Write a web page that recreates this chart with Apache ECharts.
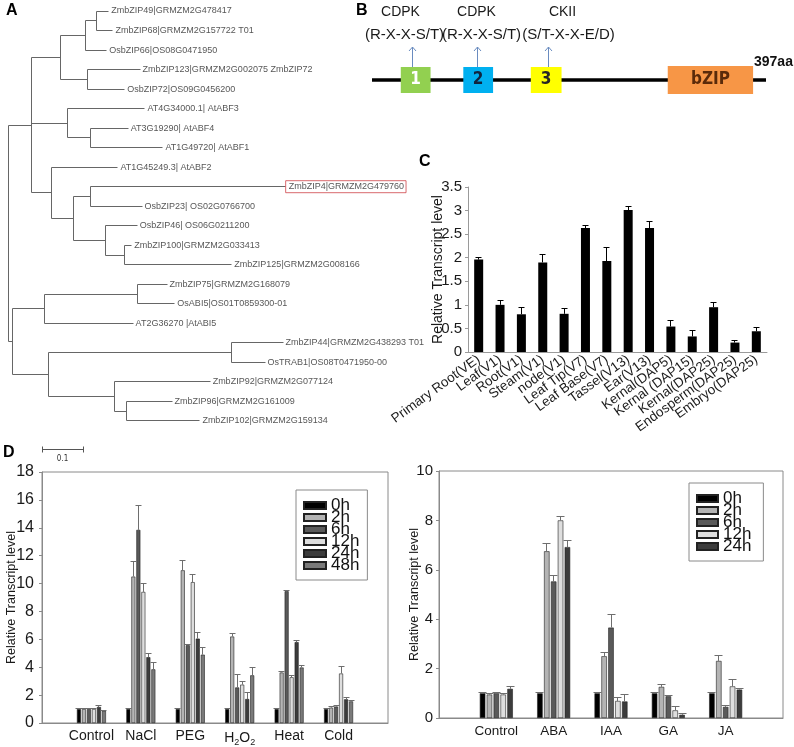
<!DOCTYPE html>
<html><head><meta charset="utf-8">
<script src="https://cdn.jsdelivr.net/npm/echarts@6/dist/echarts.min.js"></script>
<style>html,body{margin:0;padding:0;background:#fff}#c{width:794px;height:747px}</style>
</head><body><div id="c"></div>
<script>
// ---------------- Panel A: phylogenetic tree ----------------
const leafNames = [
  'ZmbZIP49|GRMZM2G478417','ZmbZIP68|GRMZM2G157722 T01','OsbZIP66|OS08G0471950',
  'ZmbZIP123|GRMZM2G002075 ZmbZIP72','OsbZIP72|OS09G0456200','AT4G34000.1| AtABF3',
  'AT3G19290| AtABF4','AT1G49720| AtABF1','AT1G45249.3| AtABF2','ZmbZIP4|GRMZM2G479760',
  'OsbZIP23| OS02G0766700','OsbZIP46| OS06G0211200','ZmbZIP100|GRMZM2G033413',
  'ZmbZIP125|GRMZM2G008166','ZmbZIP75|GRMZM2G168079','OsABI5|OS01T0859300-01',
  'AT2G36270 |AtABI5','ZmbZIP44|GRMZM2G438293 T01','OsTRAB1|OS08T0471950-00',
  'ZmbZIP92|GRMZM2G077124','ZmbZIP96|GRMZM2G161009','ZmbZIP102|GRMZM2G159134'];
const leafParents = ['n96','n96','n86','n88','n88','n68','n90','n90','n52','n91','n91','n106','n125','n125','n137','n137','n45','n231','n231','n114','n127','n127'];
const leafDist = [0.246,0.256,0.241,0.322,0.285,0.334,0.293,0.378,0.268,0.676,0.327,0.315,0.302,0.546,0.388,0.407,0.305,0.671,0.627,0.493,0.400,0.468];
const nodeNames   = ['root','nU','n61','n86','n96','n88','n68','n90','n52','n73','n91','n106','n125','nL','n45','n137','n48','n231','n114','n127'];
const nodeParents = [null,'root','nU','n61','n86','n61','nU','n68','nU','n52','n73','n73','n106','root','nL','n45','nL','n48','n48','n114'];
const nodeDist    = [0,0.0585,0.129,0.190,0.215,0.195,0.146,0.200,0.107,0.159,0.202,0.239,0.285,0.010,0.090,0.315,0.098,0.544,0.259,0.290];
const highlightedLeaf = 'ZmbZIP4|GRMZM2G479760';
const scaleBar = [[0.083, 0.1, 22.44]]; // start, length, row

// ---------------- Panel B: protein schematic ----------------
const proteinLength = 397;
const domainStart = [29, 92, 160, 298];
const domainEnd   = [59, 122, 191, 384];
const domainLabels = ['1', '2', '3', 'bZIP'];
const sitePos = [41, 106, 178];
const siteKinase = ['CDPK', 'CDPK', 'CKII'];
const siteMotif = ['(R-X-X-S/T)', '(R-X-X-S/T)', '(S/T-X-X-E/D)'];

// ---------------- Panel C: tissue expression ----------------
const tissueNames = ['Primary Root(VE)','Leaf(V1)','Root(V1)','Steam(V1)','node(V1)','Leaf Tip(V7)','Leaf Base(V7)','Tassel(V13)','Ear(V13)','Kernal(DAP5)','Kernal (DAP15)','Kernal(DAP25)','Endosperm(DAP25)','Embryo(DAP25)'];
const tissueValues = [1.96,1.0,0.8,1.9,0.81,2.63,1.93,3.01,2.63,0.54,0.33,0.95,0.2,0.44];
const tissueErr    = [0.04,0.1,0.15,0.16,0.11,0.06,0.28,0.07,0.13,0.13,0.12,0.1,0.05,0.08];

// ---------------- Panel D left: stresses ----------------
const stressNames = ['Control','NaCl','PEG','H2O2','Heat','Cold'];
const stressTimes = ['0h','2h','6h','12h','24h','48h'];
const stress0h  = [1.0, 1.0, 1.0, 1.0, 1.0, 1.0];
const stress2h  = [1.0, 10.5, 10.95, 6.2, 3.62, 1.1];
const stress6h  = [1.0, 13.85, 5.58, 2.55, 9.45, 1.18];
const stress12h = [1.0, 9.4, 10.1, 2.75, 3.28, 3.55];
const stress24h = [1.15, 4.72, 6.05, 1.72, 5.8, 1.7];
const stress48h = [0.88, 3.85, 4.9, 3.42, 3.98, 1.55];
const stress0hErr  = [0.05, 0.05, 0.05, 0.05, 0.05, 0.05];
const stress2hErr  = [0.05, 1.1, 0.72, 0.2, 0.08, 0.07];
const stress6hErr  = [0.05, 1.75, 0.08, 0.9, 0.07, 0.07];
const stress12hErr = [0.05, 0.6, 0.53, 0.2, 0.1, 0.52];
const stress24hErr = [0.12, 0.28, 0.42, 0.47, 0.14, 0.1];
const stress48hErr = [0.05, 0.5, 0.5, 0.56, 0.12, 0.06];

// ---------------- Panel D right: hormones ----------------
const hormoneNames = ['Control','ABA','IAA','GA','JA'];
const hormoneTimes = ['0h','2h','6h','12h','24h'];
const hormone0h  = [1.0, 1.0, 1.0, 1.0, 1.0];
const hormone2h  = [0.95, 6.75, 2.5, 1.26, 2.31];
const hormone6h  = [1.0, 5.53, 3.66, 0.88, 0.45];
const hormone12h = [0.95, 8.0, 0.69, 0.31, 1.28];
const hormone24h = [1.18, 6.92, 0.67, 0.13, 1.15];
const hormone0hErr  = [0.05, 0.05, 0.05, 0.05, 0.05];
const hormone2hErr  = [0.06, 0.33, 0.17, 0.1, 0.21];
const hormone6hErr  = [0.03, 0.22, 0.52, 0.03, 0.07];
const hormone12hErr = [0.06, 0.16, 0.12, 0.14, 0.27];
const hormone24hErr = [0.1, 0.27, 0.29, 0.07, 0.05];

// ================= styles =================
const FONT = '"Liberation Sans", Arial, Helvetica, sans-serif';
const NARROW = '"Liberation Sans Narrow", "DejaVu Sans Condensed", Arial, sans-serif';
const timeColors = ['#000000', '#b4b4b4', '#5a5a5a', '#dedede', '#3c3c3c', '#7a7a7a'];
const domainFill = ['#92d050', '#00b0f0', '#ffff00', '#f79646'];
const domainText = ['#ffffff', '#10243e', '#262626', '#5a2a0a'];
const domainH = [26, 26, 26, 28];
const crisp = v => Math.round(v - 0.5) + 0.5;

// ================= tree building =================
function buildTree() {
  const all = {};
  leafNames.forEach((n, i) => { all['L' + i] = { dist: leafDist[i], y: i, parent: leafParents[i], children: [] }; });
  nodeNames.forEach((n, i) => { all[n] = { dist: nodeDist[i], parent: nodeParents[i], children: [] }; });
  Object.keys(all).forEach(k => { const p = all[k].parent; if (p) all[p].children.push(k); });
  function getY(k) {
    const nd = all[k];
    if (nd.y !== undefined) return nd.y;
    const ys = nd.children.map(getY);
    nd.minY = Math.min(...ys); nd.maxY = Math.max(...ys);
    nd.y = (nd.minY + nd.maxY) / 2;
    return nd.y;
  }
  getY('root');
  const segs = [];
  Object.keys(all).forEach(k => {
    const nd = all[k];
    if (nd.parent) segs.push([all[nd.parent].dist, nd.y, nd.dist, nd.y]);
    if (nd.children.length) segs.push([nd.dist, nd.minY, nd.dist, nd.maxY]);
  });
  return segs;
}
const treeSegs = buildTree();

// ================= helpers for grouped bars =================
function padded(arr) { return [null].concat(arr, [null]); }
function errData(valsList, errList) {
  const out = [];
  valsList.forEach((vals, s) => vals.forEach((v, c) => out.push([c + 1, s, v, errList[s][c]])));
  return out;
}
function groupedErrSeries(name, xi, data, n, bw, gapRatio, capW) {
  const gap = bw * gapRatio;
  const total = n * bw + (n - 1) * gap;
  return {
    type: 'custom', name: name, xAxisIndex: xi, yAxisIndex: xi, z: 5,
    encode: { x: 0, y: 2 }, data: data,
    renderItem: (params, api) => {
      const c = api.value(0), s = api.value(1), v = api.value(2), e = api.value(3);
      const base = api.coord([c, v]);
      const top = api.coord([c, v + e]);
      const x = crisp(base[0] - total / 2 + bw / 2 + s * (bw + gap));
      const yt = crisp(top[1]);
      return { type: 'group', children: [
        { type: 'line', shape: { x1: x, y1: base[1], x2: x, y2: yt }, style: { stroke: '#6e6e6e', lineWidth: 1 } },
        { type: 'line', shape: { x1: x - capW / 2, y1: yt, x2: x + capW / 2, y2: yt }, style: { stroke: '#6e6e6e', lineWidth: 1 } }
      ]};
    }
  };
}

const stressVals = [stress0h, stress2h, stress6h, stress12h, stress24h, stress48h];
const stressErrs = [stress0hErr, stress2hErr, stress6hErr, stress12hErr, stress24hErr, stress48hErr];
const hormoneVals = [hormone0h, hormone2h, hormone6h, hormone12h, hormone24h];
const hormoneErrs = [hormone0hErr, hormone2hErr, hormone6hErr, hormone12hErr, hormone24hErr];

const series = [];

// ---- A: tree branches
series.push({
  type: 'custom', name: 'tree', xAxisIndex: 0, yAxisIndex: 0,
  encode: { x: [0, 2], y: [1, 3] }, data: treeSegs,
  renderItem: (params, api) => {
    const a = api.coord([api.value(0), api.value(1)]);
    const b = api.coord([api.value(2), api.value(3)]);
    return { type: 'line', shape: { x1: crisp(a[0]), y1: crisp(a[1]), x2: crisp(b[0]), y2: crisp(b[1]) }, style: { stroke: '#666', lineWidth: 1 } };
  }
});
// ---- A: leaf labels
series.push({
  type: 'scatter', name: 'leaves', xAxisIndex: 0, yAxisIndex: 0, symbolSize: 1,
  itemStyle: { color: 'rgba(0,0,0,0)' },
  label: { show: true, position: 'right', distance: 2, fontSize: 9, fontFamily: FONT, color: '#2a2a2a',
    formatter: p => leafNames[p.dataIndex] },
  data: leafNames.map((n, i) => n === highlightedLeaf
    ? { value: [leafDist[i], i], label: { borderColor: '#d0454a', borderWidth: 1, padding: [2, 2, 1, 3], distance: 0 } }
    : { value: [leafDist[i], i] })
});
// ---- A: scale bar
series.push({
  type: 'custom', name: 'scale', xAxisIndex: 0, yAxisIndex: 0,
  encode: { x: 0, y: 2 }, data: scaleBar,
  renderItem: (params, api) => {
    const a = api.coord([api.value(0), api.value(2)]);
    const b = api.coord([api.value(0) + api.value(1), api.value(2)]);
    const y = crisp(a[1]);
    return { type: 'group', children: [
      { type: 'line', shape: { x1: a[0], y1: y, x2: b[0], y2: y }, style: { stroke: '#555', lineWidth: 1 } },
      { type: 'line', shape: { x1: crisp(a[0]), y1: y - 3, x2: crisp(a[0]), y2: y + 3 }, style: { stroke: '#555', lineWidth: 1 } },
      { type: 'line', shape: { x1: crisp(b[0]), y1: y - 3, x2: crisp(b[0]), y2: y + 3 }, style: { stroke: '#555', lineWidth: 1 } },
      { type: 'text', style: { text: String(api.value(1)), x: (a[0] + b[0]) / 2, y: y + 9, align: 'center', verticalAlign: 'middle', fontSize: 8, fontFamily: NARROW, fill: '#333' } }
    ]};
  }
});

// ---- B: backbone
series.push({
  type: 'custom', name: 'backbone', xAxisIndex: 1, yAxisIndex: 1,
  encode: { x: [0, 1] }, data: [[0, proteinLength]],
  renderItem: (params, api) => {
    const a = api.coord([api.value(0), 0.5]);
    const b = api.coord([api.value(1), 0.5]);
    return { type: 'group', children: [
      { type: 'line', shape: { x1: a[0], y1: a[1], x2: b[0], y2: b[1] }, style: { stroke: '#000', lineWidth: 3.5 } },
      { type: 'text', style: { text: api.value(1) + 'aa', x: b[0] - 12, y: b[1] - 18, align: 'left', verticalAlign: 'middle', fontSize: 14, fontWeight: 'bold', fontFamily: FONT, fill: '#111' } }
    ]};
  }
});
// ---- B: domains
series.push({
  type: 'custom', name: 'domains', xAxisIndex: 1, yAxisIndex: 1, z: 3,
  encode: { x: [0, 1] }, data: domainStart.map((s, i) => [s, domainEnd[i], i]),
  renderItem: (params, api) => {
    const i = api.value(2);
    const s = api.coord([api.value(0), 0.5]);
    const e = api.coord([api.value(1), 0.5]);
    const h = domainH[i];
    return { type: 'group', children: [
      { type: 'rect', shape: { x: s[0], y: s[1] - h / 2, width: e[0] - s[0], height: h }, style: { fill: domainFill[i] } },
      { type: 'text', style: { text: domainLabels[i], x: (s[0] + e[0]) / 2, y: s[1], align: 'center', verticalAlign: 'middle', fontSize: 17, fontWeight: 'bold', fontFamily: NARROW, fill: domainText[i] } }
    ]};
  }
});
// ---- B: phosphorylation sites
const kinaseDx = [-12, -1, 14];
const motifDx = [-8, 4, 20];
series.push({
  type: 'custom', name: 'sites', xAxisIndex: 1, yAxisIndex: 1, z: 4,
  encode: { x: 0 }, data: sitePos.map((p, i) => [p, i]),
  renderItem: (params, api) => {
    const i = api.value(1);
    const p = api.coord([api.value(0), 0.5]);
    const x = crisp(p[0]), y0 = p[1];
    const col = '#6a8cc0';
    return { type: 'group', children: [
      { type: 'line', shape: { x1: x, y1: y0 - 13, x2: x, y2: y0 - 33 }, style: { stroke: col, lineWidth: 1 } },
      { type: 'polyline', shape: { points: [[x - 3.5, y0 - 29], [x, y0 - 33], [x + 3.5, y0 - 29]] }, style: { stroke: col, lineWidth: 1, fill: null } },
      { type: 'text', style: { text: siteKinase[i], x: x + kinaseDx[i], y: y0 - 68, align: 'center', verticalAlign: 'middle', fontSize: 14, fontFamily: FONT, fill: '#1a1a1a' } },
      { type: 'text', style: { text: siteMotif[i], x: x + motifDx[i], y: y0 - 45, align: 'center', verticalAlign: 'middle', fontSize: 15, fontFamily: FONT, fill: '#1a1a1a' } }
    ]};
  }
});

// ---- C: bars + error bars
series.push({
  type: 'bar', name: 'tissue', xAxisIndex: 2, yAxisIndex: 2, barWidth: 9,
  itemStyle: { color: '#000' }, data: tissueValues
});
series.push({
  type: 'custom', name: 'tissueErr', xAxisIndex: 2, yAxisIndex: 2, z: 5,
  encode: { x: 0, y: 1 }, data: tissueValues.map((v, i) => [i, v, tissueErr[i]]),
  renderItem: (params, api) => {
    const b = api.coord([api.value(0), api.value(1)]);
    const t = api.coord([api.value(0), api.value(1) + api.value(2)]);
    const x = crisp(b[0]), yt = crisp(t[1]);
    return { type: 'group', children: [
      { type: 'line', shape: { x1: x, y1: b[1], x2: x, y2: yt }, style: { stroke: '#000', lineWidth: 1 } },
      { type: 'line', shape: { x1: x - 3, y1: yt, x2: x + 3, y2: yt }, style: { stroke: '#000', lineWidth: 1 } }
    ]};
  }
});

// ---- D left
stressTimes.forEach((t, s) => series.push({
  type: 'bar', name: t, xAxisIndex: 3, yAxisIndex: 3, barWidth: 4, barGap: '25%',
  itemStyle: { color: timeColors[s], borderColor: '#222', borderWidth: 0.6 },
  data: padded(stressVals[s])
}));
series.push(groupedErrSeries('stressErr', 3, errData(stressVals, stressErrs), 6, 4, 0.25, 6));

// ---- D right
hormoneTimes.forEach((t, s) => series.push({
  type: 'bar', name: t, xAxisIndex: 4, yAxisIndex: 4, barWidth: 5.5, barGap: '25%',
  itemStyle: { color: timeColors[s], borderColor: '#222', borderWidth: 0.6 },
  data: padded(hormoneVals[s])
}));
series.push(groupedErrSeries('hormoneErr', 4, errData(hormoneVals, hormoneErrs), 5, 5.5, 0.25, 8));

const axisTxt = { fontFamily: FONT, color: '#1a1a1a' };
const dCatLabel = {
  interval: 0, fontSize: 14, margin: 6, fontFamily: FONT, color: '#1a1a1a',
  formatter: v => v === 'H2O2' ? 'H{s|2}O{s|2}' : v,
  rich: { s: { fontSize: 9, padding: [9, 0, 0, 0], fontFamily: FONT, color: '#1a1a1a' } }
};

const option = {
  animation: false,
  backgroundColor: '#fff',
  grid: [
    { left: 8, top: 11, width: 410, height: 449 },
    { left: 372, top: 60, width: 394, height: 40 },
    { left: 468, top: 187, width: 299, height: 165 },
    { left: 42, top: 472, width: 346, height: 252, show: true, borderColor: '#8a8a8a', borderWidth: 1 },
    { left: 439, top: 471, width: 344, height: 247, show: true, borderColor: '#8a8a8a', borderWidth: 1 }
  ],
  xAxis: [
    { type: 'value', gridIndex: 0, min: 0, max: 1, show: false },
    { type: 'value', gridIndex: 1, min: 0, max: proteinLength, show: false },
    { type: 'category', gridIndex: 2, data: tissueNames,
      axisLine: { lineStyle: { color: '#9a9a9a' } }, axisTick: { length: 4, lineStyle: { color: '#9a9a9a' } },
      axisLabel: Object.assign({ interval: 0, rotate: 36, fontSize: 13.5, margin: 6 }, axisTxt) },
    { type: 'category', gridIndex: 3, data: padded(stressNames).map(v => v || ''), boundaryGap: false,
      axisLine: { lineStyle: { color: '#8a8a8a' } }, axisTick: { show: false }, axisLabel: dCatLabel },
    { type: 'category', gridIndex: 4, data: padded(hormoneNames).map(v => v || ''), boundaryGap: false,
      axisLine: { lineStyle: { color: '#8a8a8a' } }, axisTick: { show: false }, axisLabel: Object.assign({}, dCatLabel, { fontSize: 13.5 }) }
  ],
  yAxis: [
    { type: 'value', gridIndex: 0, min: 0, max: 23, inverse: true, show: false },
    { type: 'value', gridIndex: 1, min: 0, max: 1, show: false },
    { type: 'value', gridIndex: 2, min: 0, max: 3.5, interval: 0.5, splitLine: { show: false },
      axisLine: { show: true, lineStyle: { color: '#9a9a9a' } }, axisTick: { show: true, length: 3, lineStyle: { color: '#9a9a9a' } },
      axisLabel: Object.assign({ fontSize: 15, margin: 6 }, axisTxt),
      name: 'Relative Transcript level', nameLocation: 'middle', nameGap: 23, nameMoveOverlap: false,
      nameTextStyle: { fontSize: 14, fontFamily: FONT, color: '#1a1a1a' } },
    { type: 'value', gridIndex: 3, min: 0, max: 18, interval: 2, splitLine: { show: false },
      axisLine: { show: true, lineStyle: { color: '#8a8a8a' } }, axisTick: { show: true, length: 3, lineStyle: { color: '#8a8a8a' } },
      axisLabel: Object.assign({ fontSize: 16, margin: 8 }, axisTxt),
      name: 'Relative Transcript level', nameLocation: 'middle', nameGap: 24, nameMoveOverlap: false,
      nameTextStyle: { fontSize: 12.5, fontFamily: FONT, color: '#1a1a1a' } },
    { type: 'value', gridIndex: 4, min: 0, max: 10, interval: 2, splitLine: { show: false },
      axisLine: { show: true, lineStyle: { color: '#8a8a8a' } }, axisTick: { show: true, length: 3, lineStyle: { color: '#8a8a8a' } },
      axisLabel: Object.assign({ fontSize: 15, margin: 6 }, axisTxt),
      name: 'Relative Transcript level', nameLocation: 'middle', nameGap: 18, nameMoveOverlap: false,
      nameTextStyle: { fontSize: 12.5, fontFamily: FONT, color: '#1a1a1a' } }
  ],
  legend: [
    { data: stressTimes, orient: 'vertical', left: 296, top: 490, padding: [7, 8, 6, 7], itemGap: -5,
      itemWidth: 22, itemHeight: 7, icon: 'rect', borderColor: '#8a8a8a', borderWidth: 1, selectedMode: false,
      textStyle: { fontSize: 17, lineHeight: 12.5, fontFamily: FONT, color: '#111' } },
    { data: hormoneTimes, orient: 'vertical', left: 689, top: 483, padding: [7, 12, 6, 7], itemGap: -5,
      itemWidth: 21, itemHeight: 7, icon: 'rect', borderColor: '#8a8a8a', borderWidth: 1, selectedMode: false,
      textStyle: { fontSize: 17, lineHeight: 12, fontFamily: FONT, color: '#111' } }
  ],
  graphic: [
    { type: 'text', left: 6, top: 3, style: { text: 'A', fontSize: 16, fontWeight: 'bold', fontFamily: FONT, fill: '#000' } },
    { type: 'text', left: 356, top: 3, style: { text: 'B', fontSize: 16, fontWeight: 'bold', fontFamily: FONT, fill: '#000' } },
    { type: 'text', left: 419, top: 154, style: { text: 'C', fontSize: 16, fontWeight: 'bold', fontFamily: FONT, fill: '#000' } },
    { type: 'text', left: 3, top: 445, style: { text: 'D', fontSize: 16, fontWeight: 'bold', fontFamily: FONT, fill: '#000' } }
  ],
  series: series
};
const chart = echarts.init(document.getElementById('c'));
chart.setOption(option);
</script></body></html>
